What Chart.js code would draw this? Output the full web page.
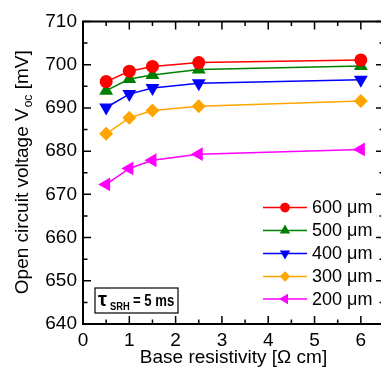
<!DOCTYPE html>
<html>
<head>
<meta charset="utf-8">
<script src="https://cdn.jsdelivr.net/npm/chart.js@4"></script>
<style>
  html, body { margin: 0; padding: 0; background: #fff; overflow: hidden; }
  #wrap { width: 381px; height: 370px; overflow: hidden; }
</style>
</head>
<body>
<div id="wrap"><canvas id="myChart" width="392" height="370"></canvas></div>
<script>
// base resistivity [Ohm cm]
const resistivity = [0.5, 1, 1.5, 2.5, 6];

// Voc [mV] per wafer thickness
const voc600 = [696.1, 698.5, 699.6, 700.5, 701.1];
const voc500 = [694.0, 696.7, 697.6, 698.9, 699.7];
const voc400 = [690.1, 693.2, 694.6, 695.7, 696.5];
const voc300 = [684.0, 687.7, 689.4, 690.4, 691.6];
const voc200 = [672.3, 676.0, 677.9, 679.3, 680.4];

const seriesLabels = ["600 μm", "500 μm", "400 μm", "300 μm", "200 μm"];
const seriesColors = ["#ff0000", "#008000", "#0000ff", "#ffa500", "#ff00ff"];
const seriesShapes = ["circle", "triangle", "triangle", "rectRot", "triangle"];
const seriesRotations = [0, 0, 180, 0, -90];
const seriesRadius = [6.5, 8, 8, 7, 8];

const xTicks = [0, 1, 2, 3, 4, 5, 6];
const yTicks = [640, 650, 660, 670, 680, 690, 700, 710];

const FONT = "'Liberation Sans', Arial, sans-serif";

function pts(values) {
    return resistivity.map((x, i) => ({ x: x, y: values[i] }));
}

const allValues = [voc600, voc500, voc400, voc300, voc200];

const datasets = allValues.map((vals, i) => ({
    label: seriesLabels[i],
    data: pts(vals),
    borderColor: seriesColors[i],
    backgroundColor: seriesColors[i],
    borderWidth: 1.5,
    pointStyle: seriesShapes[i],
    pointRotation: seriesRotations[i],
    pointRadius: seriesRadius[i],
    pointBorderWidth: 0,
    tension: 0,
}));

// frame, inward ticks, legend, annotation box and axis titles
const decorations = {
    id: "decorations",
    afterDraw(chart) {
        const ctx = chart.ctx;
        const a = chart.chartArea;
        const xs = chart.scales.x;
        const ys = chart.scales.y;
        ctx.save();
        ctx.strokeStyle = "#000";
        ctx.lineWidth = 2;
        ctx.strokeRect(a.left, a.top, a.right - a.left, a.bottom - a.top);

        ctx.lineWidth = 1.5;
        ctx.beginPath();
        for (let v = 0; v <= 6.5; v += 0.5) {
            const px = xs.getPixelForValue(v);
            const len = Number.isInteger(v) ? 8 : 4.5;
            ctx.moveTo(px, a.bottom); ctx.lineTo(px, a.bottom - len);
            ctx.moveTo(px, a.top); ctx.lineTo(px, a.top + len);
        }
        for (let v = 640; v <= 710; v += 5) {
            const py = ys.getPixelForValue(v);
            const len = v % 10 === 0 ? 8 : 4.5;
            ctx.moveTo(a.left, py); ctx.lineTo(a.left + len, py);
            ctx.moveTo(a.right, py); ctx.lineTo(a.right - len, py);
        }
        ctx.stroke();

        // legend
        const legY = [207.5, 230.5, 253.5, 276.5, 299];
        ctx.font = "18px " + FONT;
        ctx.textBaseline = "middle";
        ctx.textAlign = "left";
        for (let i = 0; i < seriesLabels.length; i++) {
            const y = legY[i];
            ctx.strokeStyle = seriesColors[i];
            ctx.lineWidth = 1.5;
            ctx.beginPath();
            ctx.moveTo(263, y); ctx.lineTo(307, y);
            ctx.stroke();
            ctx.fillStyle = seriesColors[i];
            ctx.strokeStyle = seriesColors[i];
            ctx.lineWidth = 0;
            Chart.helpers.drawPoint(ctx, {
                pointStyle: seriesShapes[i],
                rotation: seriesRotations[i],
                radius: seriesRadius[i] * 0.75,
                borderWidth: 0,
            }, 285, y);
            ctx.fillStyle = "#000";
            ctx.fillText(seriesLabels[i], 312, y + 1);
        }

        // tau box
        ctx.fillStyle = "#fff";
        ctx.fillRect(95, 288, 83, 25);
        ctx.strokeStyle = "#000";
        ctx.lineWidth = 1.2;
        ctx.strokeRect(95, 288, 83, 25);
        ctx.fillStyle = "#000";
        ctx.textBaseline = "alphabetic";
        ctx.font = "bold 20px " + FONT;
        ctx.fillText("τ", 98, 305.5);
        ctx.save();
        ctx.translate(110, 310);
        ctx.scale(0.85, 1);
        ctx.font = "bold 11px " + FONT;
        ctx.fillText("SRH", 0, 0);
        ctx.restore();
        ctx.save();
        ctx.translate(133, 305.5);
        ctx.scale(0.82, 1);
        ctx.font = "bold 16px " + FONT;
        ctx.fillText("= 5 ms", 0, 0);
        ctx.restore();

        // x title
        ctx.font = "19px " + FONT;
        ctx.textAlign = "center";
        ctx.fillText("Base resistivity [Ω cm]", (a.left + a.right) / 2, 363);

        // y title with subscript
        ctx.save();
        ctx.translate(28, (a.top + a.bottom) / 2);
        ctx.rotate(-Math.PI / 2);
        const p1 = "Open circuit voltage V";
        const p2 = "oc";
        const p3 = " [mV]";
        ctx.font = "19px " + FONT;
        const w1 = ctx.measureText(p1).width;
        const w3 = ctx.measureText(p3).width;
        ctx.font = "12px " + FONT;
        const w2 = ctx.measureText(p2).width;
        let x0 = -(w1 + w2 + w3) / 2;
        ctx.textAlign = "left";
        ctx.font = "19px " + FONT;
        ctx.fillText(p1, x0, 0);
        ctx.font = "12px " + FONT;
        ctx.fillText(p2, x0 + w1 + 1, 4);
        ctx.font = "19px " + FONT;
        ctx.fillText(p3, x0 + w1 + w2 + 1, 0);
        ctx.restore();

        ctx.restore();
    },
};

var ctx = document.getElementById("myChart").getContext("2d");
var myChart = new Chart(ctx, {
    type: "line",
    data: { datasets: datasets },
    options: {
        responsive: false,
        animation: false,
        layout: { padding: { top: 21.5, right: 5.5, left: 0, bottom: 0 } },
        plugins: { legend: { display: false }, tooltip: { enabled: false } },
        scales: {
            x: {
                type: "linear",
                min: 0,
                max: 6.5,
                afterFit: (s) => { s.height = 46; },
                afterBuildTicks: (s) => { s.ticks = xTicks.map((v) => ({ value: v })); },
                grid: { display: false, drawTicks: false },
                border: { display: false },
                ticks: { color: "#000", padding: 5, maxRotation: 0, font: { family: FONT, size: 19 } },
            },
            y: {
                min: 640,
                max: 710,
                afterFit: (s) => { s.width = 83; },
                afterBuildTicks: (s) => { s.ticks = yTicks.map((v) => ({ value: v })); },
                grid: { display: false, drawTicks: false },
                border: { display: false },
                ticks: { color: "#000", padding: 6, font: { family: FONT, size: 19 } },
            },
        },
    },
    plugins: [decorations],
});
</script>
</body>
</html>
